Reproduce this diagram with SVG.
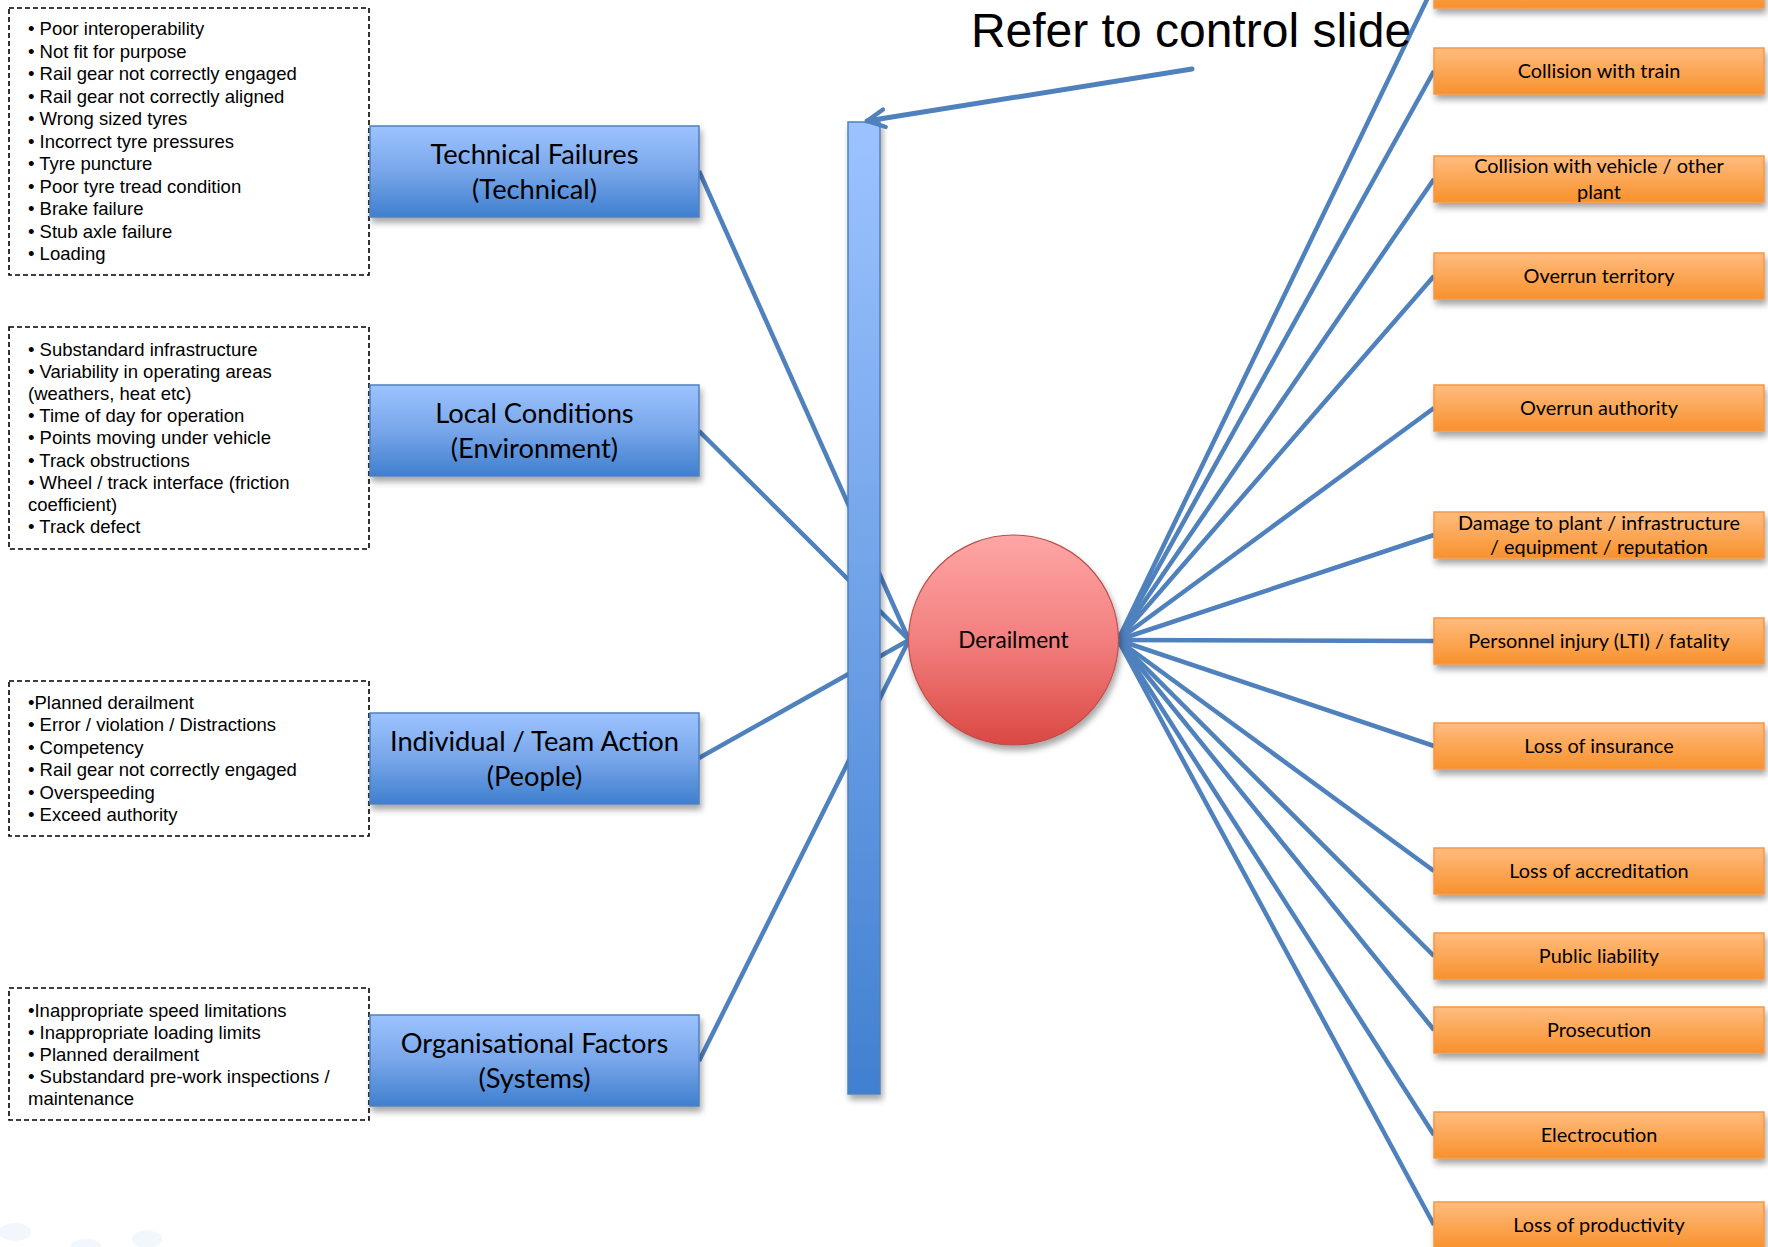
<svg xmlns="http://www.w3.org/2000/svg" width="1768" height="1247" viewBox="0 0 1768 1247">
<defs>
  <linearGradient id="gBlue" x1="0" y1="0" x2="0" y2="1">
    <stop offset="0" stop-color="#9DC3FF"/>
    <stop offset="0.5" stop-color="#78A6EA"/>
    <stop offset="1" stop-color="#3F7FCE"/>
  </linearGradient>
  <linearGradient id="gBar" x1="0" y1="0" x2="0" y2="1">
    <stop offset="0" stop-color="#9DC3FF"/>
    <stop offset="1" stop-color="#4180D0"/>
  </linearGradient>
  <linearGradient id="gOrange" x1="0" y1="0" x2="0" y2="1">
    <stop offset="0" stop-color="#FFBC7F"/>
    <stop offset="1" stop-color="#F8912C"/>
  </linearGradient>
  <linearGradient id="gRed" x1="0" y1="0" x2="0" y2="1">
    <stop offset="0" stop-color="#FFA6A6"/>
    <stop offset="0.5" stop-color="#F27F7E"/>
    <stop offset="1" stop-color="#DA4843"/>
  </linearGradient>
  <filter id="shadow" x="-10%" y="-20%" width="130%" height="160%">
    <feDropShadow dx="2" dy="5" stdDeviation="3" flood-color="#000" flood-opacity="0.35"/>
  </filter>
  <marker id="openArrow" viewBox="0 0 10 10" refX="9" refY="5" markerUnits="userSpaceOnUse" markerWidth="22" markerHeight="22" orient="auto">
    <path d="M1,1 L9,5 L1,9" fill="none" stroke="#4F81BD" stroke-width="1.9" stroke-linecap="round" stroke-linejoin="round"/>
  </marker>
  <style>
    .dash { fill: #fff; stroke: #000; stroke-width: 1.6; stroke-dasharray: 5 3; }
    .list { font-family: "Liberation Sans", Arial, sans-serif; font-size: 18.5px; fill: #000; }
    .blue { fill: url(#gBlue); stroke: #4F81BD; stroke-width: 1.5; filter: url(#shadow); }
    .blueText { font-family: Lato, "Noto Sans", sans-serif; font-size: 27.3px; fill: #000; text-anchor: middle; }
    .orange { fill: url(#gOrange); stroke: #F79646; stroke-width: 1.5; filter: url(#shadow); }
    .orangeText { font-family: Lato, "Noto Sans", sans-serif; font-size: 19.9px; fill: #000; text-anchor: middle; }
    .conn { stroke: #4F81BD; stroke-width: 4.5; fill: none; }
  </style>
</defs>
<rect width="1768" height="1247" fill="#fff"/>
<g id="decor" fill="#F1F7FC">
  <ellipse cx="15" cy="1232" rx="16" ry="9"/>
  <ellipse cx="86" cy="1246" rx="15" ry="7"/>
  <ellipse cx="147" cy="1239" rx="15" ry="9"/>
</g>

<g id="connectors">
  <line class="conn" x1="699" y1="171" x2="909" y2="640"/>
  <line class="conn" x1="699" y1="431" x2="909" y2="640"/>
  <line class="conn" x1="699" y1="758" x2="909" y2="640"/>
  <line class="conn" x1="699" y1="1061" x2="909" y2="640"/>
  <line class="conn" x1="1118" y1="640" x2="1434" y2="-15"/>
  <line class="conn" x1="1118" y1="640" x2="1434" y2="71"/>
  <line class="conn" x1="1118" y1="640" x2="1434" y2="179"/>
  <line class="conn" x1="1118" y1="640" x2="1434" y2="276"/>
  <line class="conn" x1="1118" y1="640" x2="1434" y2="408"/>
  <line class="conn" x1="1118" y1="640" x2="1434" y2="535"/>
  <line class="conn" x1="1118" y1="640" x2="1434" y2="641"/>
  <line class="conn" x1="1118" y1="640" x2="1434" y2="746"/>
  <line class="conn" x1="1118" y1="640" x2="1434" y2="871"/>
  <line class="conn" x1="1118" y1="640" x2="1434" y2="956"/>
  <line class="conn" x1="1118" y1="640" x2="1434" y2="1030"/>
  <line class="conn" x1="1118" y1="640" x2="1434" y2="1135"/>
  <line class="conn" x1="1118" y1="640" x2="1434" y2="1225"/>
</g>

<g id="bar">
  <rect x="848" y="122" width="32" height="972" fill="url(#gBar)" stroke="#4F81BD" stroke-width="1.5" filter="url(#shadow)"/>
</g>

<g id="list-technical">
  <rect class="dash" x="9" y="8" width="360" height="267"/>
  <text class="list">
    <tspan x="28" y="35">• Poor interoperability</tspan>
    <tspan x="28" y="57.5">• Not fit for purpose</tspan>
    <tspan x="28" y="80">• Rail gear not correctly engaged</tspan>
    <tspan x="28" y="102.5">• Rail gear not correctly aligned</tspan>
    <tspan x="28" y="125">• Wrong sized tyres</tspan>
    <tspan x="28" y="147.5">• Incorrect tyre pressures</tspan>
    <tspan x="28" y="170">• Tyre puncture</tspan>
    <tspan x="28" y="192.5">• Poor tyre tread condition</tspan>
    <tspan x="28" y="215">• Brake failure</tspan>
    <tspan x="28" y="237.5">• Stub axle failure</tspan>
    <tspan x="28" y="260">• Loading</tspan>
  </text>
</g>
<g id="list-local">
  <rect class="dash" x="9" y="327" width="360" height="222"/>
  <text class="list">
    <tspan x="28" y="355.5">• Substandard infrastructure</tspan>
    <tspan x="28" y="377.7">• Variability in operating areas</tspan>
    <tspan x="28" y="399.9">(weathers, heat etc)</tspan>
    <tspan x="28" y="422.1">• Time of day for operation</tspan>
    <tspan x="28" y="444.3">• Points moving under vehicle</tspan>
    <tspan x="28" y="466.5">• Track obstructions</tspan>
    <tspan x="28" y="488.7">• Wheel / track interface (friction</tspan>
    <tspan x="28" y="510.9">coefficient)</tspan>
    <tspan x="28" y="533.1">• Track defect</tspan>
  </text>
</g>
<g id="list-people">
  <rect class="dash" x="9" y="681" width="360" height="155"/>
  <text class="list">
    <tspan x="28" y="708.5">•Planned derailment</tspan>
    <tspan x="28" y="731">• Error / violation / Distractions</tspan>
    <tspan x="28" y="753.5">• Competency</tspan>
    <tspan x="28" y="776">• Rail gear not correctly engaged</tspan>
    <tspan x="28" y="798.5">• Overspeeding</tspan>
    <tspan x="28" y="821">• Exceed authority</tspan>
  </text>
</g>
<g id="list-systems">
  <rect class="dash" x="9" y="988" width="360" height="132"/>
  <text class="list">
    <tspan x="28" y="1016.5">•Inappropriate speed limitations</tspan>
    <tspan x="28" y="1038.5">• Inappropriate  loading limits</tspan>
    <tspan x="28" y="1060.5">• Planned derailment</tspan>
    <tspan x="28" y="1082.5">• Substandard  pre-work inspections /</tspan>
    <tspan x="28" y="1104.5">maintenance</tspan>
  </text>
</g>

<g id="node-technical">
  <rect class="blue" x="370" y="126" width="329" height="91"/>
  <text class="blueText"><tspan x="534.5" y="163.5">Technical Failures</tspan><tspan x="534.5" y="198.5">(Technical)</tspan></text>
</g>
<g id="node-environment">
  <rect class="blue" x="370" y="385" width="329" height="91"/>
  <text class="blueText"><tspan x="534.5" y="422.5">Local Conditions</tspan><tspan x="534.5" y="457.5">(Environment)</tspan></text>
</g>
<g id="node-people">
  <rect class="blue" x="370" y="713" width="329" height="91"/>
  <text class="blueText"><tspan x="534.5" y="750.5">Individual / Team Action</tspan><tspan x="534.5" y="785.5">(People)</tspan></text>
</g>
<g id="node-systems">
  <rect class="blue" x="370" y="1015" width="329" height="91"/>
  <text class="blueText"><tspan x="534.5" y="1052.5">Organisational Factors</tspan><tspan x="534.5" y="1087.5">(Systems)</tspan></text>
</g>

<g id="node-derailment">
  <circle cx="1013.5" cy="640" r="105" fill="url(#gRed)" stroke="#B9504C" stroke-width="1.2" filter="url(#shadow)"/>
  <text x="1013.5" y="648" font-family="Lato, 'Noto Sans', sans-serif" font-size="22.7" text-anchor="middle" fill="#000">Derailment</text>
</g>

<g id="node-top"><rect class="orange" x="1434" y="-38" width="330" height="46"/></g>
<g id="node-collision-train"><rect class="orange" x="1434" y="48" width="330" height="46"/><text class="orangeText" x="1599" y="78">Collision with train</text></g>
<g id="node-collision-vehicle"><rect class="orange" x="1434" y="156" width="330" height="46"/><text class="orangeText"><tspan x="1599" y="173">Collision with vehicle / other</tspan><tspan x="1599" y="199">plant</tspan></text></g>
<g id="node-overrun-territory"><rect class="orange" x="1434" y="253" width="330" height="46"/><text class="orangeText" x="1599" y="283">Overrun territory</text></g>
<g id="node-overrun-authority"><rect class="orange" x="1434" y="385" width="330" height="46"/><text class="orangeText" x="1599" y="415">Overrun authority</text></g>
<g id="node-damage"><rect class="orange" x="1434" y="512" width="330" height="46"/><text class="orangeText"><tspan x="1599" y="530">Damage to plant / infrastructure</tspan><tspan x="1599" y="554">/ equipment / reputation</tspan></text></g>
<g id="node-injury"><rect class="orange" x="1434" y="618" width="330" height="46"/><text class="orangeText" x="1599" y="648">Personnel injury (LTI) / fatality</text></g>
<g id="node-insurance"><rect class="orange" x="1434" y="723" width="330" height="46"/><text class="orangeText" x="1599" y="753">Loss of insurance</text></g>
<g id="node-accreditation"><rect class="orange" x="1434" y="848" width="330" height="46"/><text class="orangeText" x="1599" y="878">Loss of accreditation</text></g>
<g id="node-liability"><rect class="orange" x="1434" y="933" width="330" height="46"/><text class="orangeText" x="1599" y="963">Public liability</text></g>
<g id="node-prosecution"><rect class="orange" x="1434" y="1007" width="330" height="46"/><text class="orangeText" x="1599" y="1037">Prosecution</text></g>
<g id="node-electrocution"><rect class="orange" x="1434" y="1112" width="330" height="46"/><text class="orangeText" x="1599" y="1142">Electrocution</text></g>
<g id="node-productivity"><rect class="orange" x="1434" y="1202" width="330" height="46"/><text class="orangeText" x="1599" y="1232">Loss of productivity</text></g>

<g id="callout">
  <text x="1191" y="47" font-family="'Liberation Sans', Arial, sans-serif" font-size="48" text-anchor="middle" fill="#000">Refer to control slide</text>
  <line x1="1192" y1="69" x2="867" y2="121" stroke="#4F81BD" stroke-width="5" stroke-linecap="round" marker-end="url(#openArrow)"/>
</g>
</svg>
